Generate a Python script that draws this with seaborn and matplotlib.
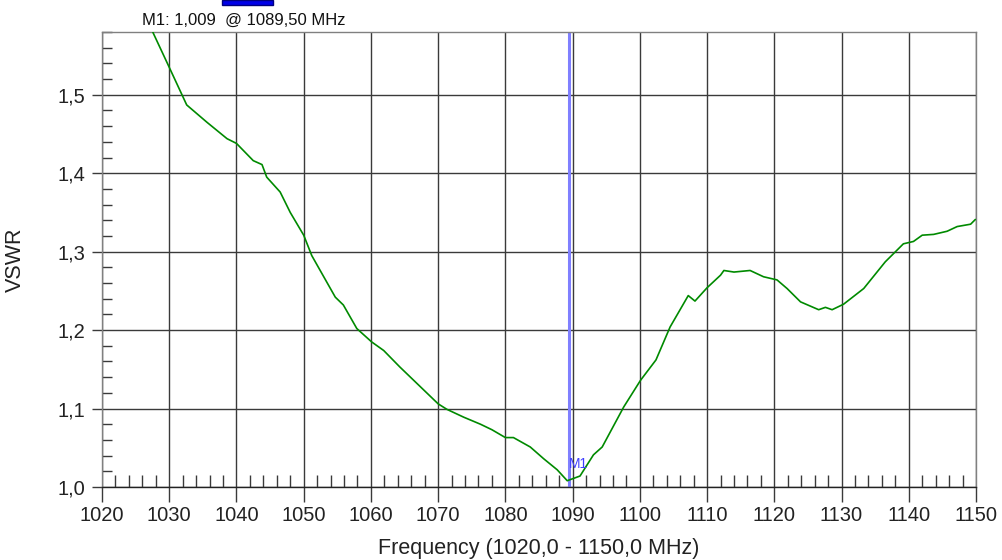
import seaborn as sns
import matplotlib.pyplot as plt
import matplotlib.patches as mpatches
import pandas as pd
import numpy as np
from matplotlib.ticker import MultipleLocator, FuncFormatter

# Datos (frecuencia en MHz, VSWR)
frecuencia = [1027.2, 1027.6, 1030.0, 1032.6, 1035.6, 1038.6, 1040.0, 1042.5, 1043.8,
              1044.5, 1046.5, 1048.0, 1050.0, 1051.2, 1054.7, 1055.9, 1057.9, 1060.1,
              1061.9, 1064.3, 1070.0, 1071.3, 1073.8, 1076.3, 1078.0, 1080.0, 1081.2,
              1083.7, 1085.7, 1087.7, 1089.2, 1091.1, 1093.1, 1094.4, 1097.6, 1100.1,
              1102.4, 1104.5, 1107.2, 1108.2, 1110.0, 1112.0, 1112.5, 1114.0, 1116.4,
              1118.4, 1120.4, 1121.9, 1123.9, 1126.6, 1127.6, 1128.6, 1130.3, 1133.3,
              1136.5, 1139.2, 1140.7, 1142.0, 1143.7, 1145.7, 1147.2, 1149.2, 1149.9]
vswr = [1.590, 1.579, 1.535, 1.487, 1.465, 1.444, 1.438, 1.416, 1.411,
        1.395, 1.376, 1.350, 1.321, 1.295, 1.242, 1.232, 1.202, 1.185,
        1.174, 1.153, 1.106, 1.099, 1.089, 1.080, 1.073, 1.063, 1.063,
        1.051, 1.036, 1.022, 1.008, 1.014, 1.041, 1.051, 1.102, 1.136,
        1.162, 1.204, 1.244, 1.237, 1.254, 1.270, 1.276, 1.274, 1.276,
        1.268, 1.264, 1.253, 1.236, 1.226, 1.229, 1.226, 1.233, 1.253,
        1.287, 1.310, 1.313, 1.321, 1.322, 1.326, 1.332, 1.335, 1.341]

marcador_freq = 1089.5
marcador_vswr = 1.009
titulo = "M1: 1,009  @ 1089,50 MHz"

df = pd.DataFrame({"Frecuencia": frecuencia, "VSWR": vswr})

sns.set_style("white")
plt.rcParams['font.family'] = ['Liberation Sans', 'DejaVu Sans']

fig = plt.figure(figsize=(10.02, 5.6), dpi=100)
ax = fig.add_axes([102/1002, 1 - 487/560, 874/1002, 455/560])

ax.axvline(marcador_freq, color='#8080ff', lw=2.2, zorder=1)
sns.lineplot(data=df, x="Frecuencia", y="VSWR", color='#008a00', lw=1.2, ax=ax, zorder=3)

ax.set_xlim(1020, 1150)
ax.set_ylim(1.0, 1.58)
ax.xaxis.set_major_locator(MultipleLocator(10))
ax.xaxis.set_minor_locator(MultipleLocator(2))
ax.yaxis.set_major_locator(MultipleLocator(0.1))
ax.yaxis.set_minor_locator(MultipleLocator(0.02))
ax.yaxis.set_major_formatter(FuncFormatter(lambda v, p: f"{v:.1f}".replace('.', ',')))

ax.grid(True, which='major', color='#3a3a3a', lw=1.0, zorder=0)
ax.set_axisbelow(True)
ax.tick_params(axis='x', which='both', bottom=True, top=False)
ax.tick_params(axis='y', which='both', left=True, right=False)
ax.tick_params(axis='x', which='major', direction='out', length=11, width=1,
               color='#3a3a3a', labelsize=14.5, pad=3, labelcolor='#222222')
ax.tick_params(axis='y', which='major', direction='out', length=7, width=1,
               color='#3a3a3a', labelsize=14.5, pad=5, labelcolor='#222222')
ax.tick_params(axis='x', which='minor', direction='in', length=9, width=1, color='#3a3a3a')
ax.tick_params(axis='y', which='minor', direction='in', length=7, width=1, color='#3a3a3a')

for s in ['top', 'right', 'left']:
    ax.spines[s].set_color('#808080')
ax.spines['bottom'].set_color('#222222')
for s in ax.spines.values():
    s.set_linewidth(1)

ax.set_xlabel("Frequency (1020,0 - 1150,0 MHz)", fontsize=15.5, color='#222222')
ax.set_ylabel("VSWR", fontsize=15.5, color='#222222')
ax.xaxis.set_label_coords(0.5, -0.112)
ax.yaxis.set_label_coords(-0.087, 0.5)

ax.text(marcador_freq - 0.1, marcador_vswr + 0.012, "M1", color='#4040ff', fontsize=10,
        ha='left', va='bottom', zorder=4)

fig.text(142/1002, 1 - 20/560, titulo, fontsize=12, color='#111111', ha='left', va='center')
fig.patches.append(mpatches.Rectangle((222/1002, 1 - 5/560), 51/1002, 5/560,
                                      transform=fig.transFigure, facecolor='#0000e8',
                                      edgecolor='#000080', lw=1))

plt.savefig("out.png", dpi=100)
